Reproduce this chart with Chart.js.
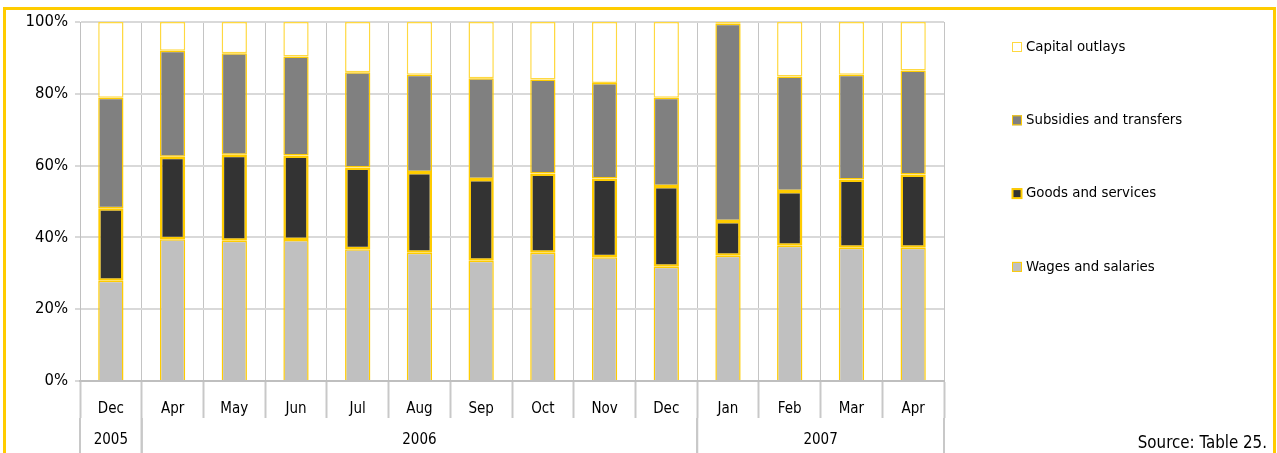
<!DOCTYPE html>
<html>
<head>
<meta charset="utf-8">
<script src="https://cdn.jsdelivr.net/npm/chart.js@4.4.1/dist/chart.umd.min.js"></script>
<style>
  html, body { margin: 0; padding: 0; background: #fff; overflow: hidden; }
  #frame { position: absolute; left: 3px; top: 7px; width: 1273px; height: 480px; border: 3px solid #FFCC00; box-sizing: border-box; }
  #wrap { position: absolute; left: 0; top: 0; width: 1277px; height: 453px; }
</style>
</head>
<body>
<div id="frame"></div>
<div id="wrap"><canvas id="chart"></canvas></div>
<script>
// months on the axis, and the years they belong to (first/last month index)
const months = ['Dec', 'Apr', 'May', 'Jun', 'Jul', 'Aug', 'Sep', 'Oct', 'Nov', 'Dec', 'Jan', 'Feb', 'Mar', 'Apr'];
const years = ['2005', '2006', '2007'];
const yearSpans = [[0, 0], [1, 9], [10, 13]];

// shares of total expenditure, %
const wages     = [27.9, 39.5, 39.1, 39.3, 36.7, 35.7, 33.5, 35.7, 34.5, 31.8, 34.9, 37.7, 37.1, 37.1];
const goods     = [20.2, 23.0, 23.9, 23.5, 22.8, 22.5, 22.8, 22.1, 21.9, 22.5,  9.7, 15.2, 19.0, 20.4];
const subsidies = [30.8, 29.5, 28.3, 27.6, 26.5, 27.1, 28.0, 26.2, 26.6, 24.6, 54.9, 31.9, 29.2, 29.0];
const capital   = [21.1,  8.0,  8.7,  9.6, 14.0, 14.7, 15.7, 16.0, 17.0, 21.1,  0.5, 15.2, 14.7, 13.5];

const FONT = "'DejaVu Sans Condensed', 'DejaVu Sans', sans-serif";
const GOLD = '#FFCC00';
const SEP = '#C8C8C8';

// second row of the category axis: year groups with separators
const yearRow = {
  id: 'yearRow',
  afterDraw(chart) {
    const x = chart.scales.x;
    const ctx = chart.ctx;
    const top = chart.chartArea.bottom + 37;
    const bottom = chart.height;
    const half = (x.getPixelForValue(1) - x.getPixelForValue(0)) / 2;
    ctx.save();
    ctx.strokeStyle = SEP;
    ctx.lineWidth = 2;
    ctx.fillStyle = '#000';
    ctx.font = '15px ' + FONT;
    ctx.textAlign = 'center';
    ctx.textBaseline = 'middle';
    yearSpans.forEach(([a, b], k) => {
      const left = x.getPixelForValue(a) - half;
      const right = x.getPixelForValue(b) + half;
      ctx.beginPath();
      ctx.moveTo(left, top);
      ctx.lineTo(left, bottom);
      ctx.moveTo(right, top);
      ctx.lineTo(right, bottom);
      ctx.stroke();
      ctx.fillText(years[k], (left + right) / 2, 440);
    });
    ctx.restore();
  }
};

const sideLegend = {
  id: 'sideLegend',
  afterDraw(chart) {
    const ctx = chart.ctx;
    const sets = chart.data.datasets.slice().reverse();
    ctx.save();
    ctx.font = '14.8px ' + FONT;
    ctx.textBaseline = 'middle';
    sets.forEach((ds, i) => {
      const y = 47 + i * 73.3;
      ctx.fillStyle = ds.backgroundColor;
      ctx.fillRect(1012, y - 5, 10, 10);
      ctx.strokeStyle = ds.borderColor;
      ctx.lineWidth = ds.borderWidth > 2 ? 2 : 1;
      ctx.strokeRect(1012.5, y - 4.5, 9, 9);
      ctx.fillStyle = '#000';
      ctx.fillText(ds.label, 1026, y);
    });
    ctx.font = '16.8px ' + FONT;
    ctx.textAlign = 'right';
    ctx.fillText('Source: Table 25.', 1267, 444);
    ctx.restore();
  }
};

new Chart(document.getElementById('chart'), {
  type: 'bar',
  data: {
    labels: months,
    datasets: [
      { label: 'Wages and salaries', data: wages, backgroundColor: '#C0C0C0', borderColor: GOLD, borderWidth: 1.5 },
      { label: 'Goods and services', data: goods, backgroundColor: '#333333', borderColor: GOLD, borderWidth: 2.5, borderSkipped: false },
      { label: 'Subsidies and transfers', data: subsidies, backgroundColor: '#808080', borderColor: GOLD, borderWidth: 1.5, borderSkipped: false },
      { label: 'Capital outlays', data: capital, backgroundColor: '#FFFFFF', borderColor: '#FFD940', borderWidth: 1.5, borderSkipped: false }
    ]
  },
  options: {
    responsive: true,
    maintainAspectRatio: false,
    animation: false,
    devicePixelRatio: 1,
    barPercentage: 0.41,
    categoryPercentage: 1,
    layout: { padding: { left: 0, right: 333, top: 22, bottom: 0 } },
    plugins: { legend: { display: false }, tooltip: { enabled: false } },
    scales: {
      x: {
        stacked: true,
        offset: true,
        grid: { offset: true, color: '#C4C4C4', lineWidth: 1, tickLength: 37, tickColor: SEP, tickWidth: 2 },
        border: { display: true, color: '#BFBFBF', width: 2 },
        ticks: { padding: -18, color: '#000', font: { family: FONT, size: 15 }, maxRotation: 0, autoSkip: false },
        afterFit(s) { s.height = 72; }
      },
      y: {
        stacked: true,
        min: 0,
        max: 100,
        ticks: { stepSize: 20, padding: 7, color: '#000', font: { family: FONT, size: 16.5 }, callback: v => v + '%' },
        grid: { color: '#D9D9D9', lineWidth: 2, tickLength: 5, tickColor: '#D9D9D9' },
        border: { display: true, color: '#C0C0C0', width: 1 },
        afterFit(s) { s.width = 80; }
      }
    }
  },
  plugins: [yearRow, sideLegend]
});
</script>
</body>
</html>
